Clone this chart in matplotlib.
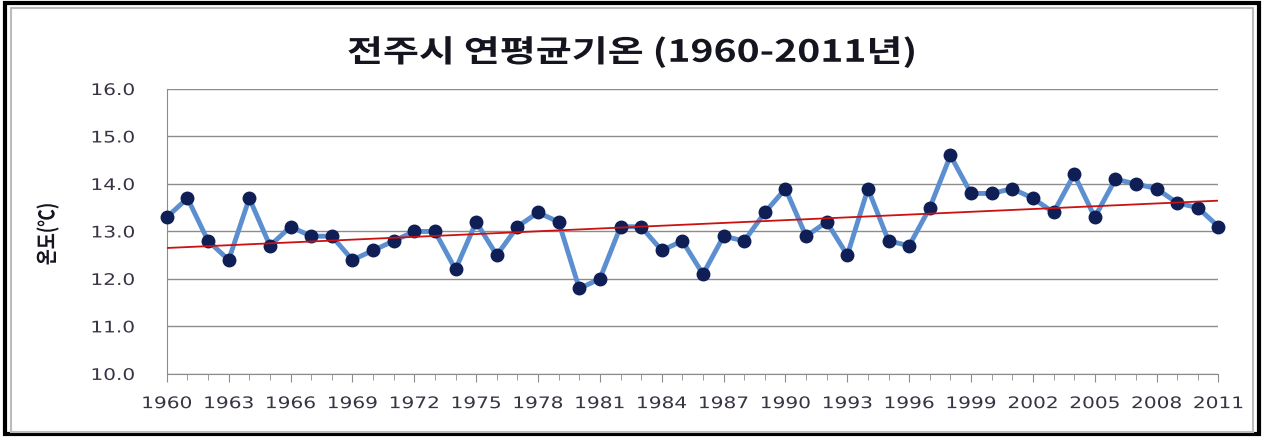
import numpy as np
import matplotlib.pyplot as plt
from matplotlib.patches import Rectangle
from matplotlib.patheffects import AbstractPathEffect
from matplotlib.transforms import Affine2D

plt.rcParams['font.family'] = ['DejaVu Sans', 'Noto Sans CJK KR']

years = np.arange(1960, 2012)
temps = [13.3, 13.7, 12.8, 12.4, 13.7, 12.7, 13.1, 12.9, 12.9, 12.4,
         12.6, 12.8, 13.0, 13.0, 12.2, 13.2, 12.5, 13.1, 13.4, 13.2,
         11.8, 12.0, 13.1, 13.1, 12.6, 12.8, 12.1, 12.9, 12.8, 13.4,
         13.9, 12.9, 13.2, 12.5, 13.9, 12.8, 12.7, 13.5, 14.6, 13.8,
         13.8, 13.9, 13.7, 13.4, 14.2, 13.3, 14.1, 14.0, 13.9, 13.6,
         13.5, 13.1]
title = '전주시 연평균기온 (1960-2011년)'
ylabel = '온도(℃)'


class Stretch(AbstractPathEffect):
    # the source picture is stretched sideways, so the glyphs are too
    def __init__(self, sx=1.0, sy=1.0):
        super().__init__()
        self.sx, self.sy = sx, sy

    def draw_path(self, renderer, gc, tpath, affine, rgbFace=None):
        e = tpath.get_extents()
        cx, cy = (e.x0 + e.x1) / 2, (e.y0 + e.y1) / 2
        t = Affine2D().translate(-cx, -cy).scale(self.sx, self.sy).translate(cx, cy) + affine
        renderer.draw_path(gc, tpath, t, rgbFace)


fig = plt.figure(figsize=(12.64, 4.39), dpi=100)
ax = fig.add_axes([0.132, 0.146, 0.832, 0.649])

# frame round the whole chart
fig.patches.append(Rectangle((0.004, 0.008), 0.992, 0.982, transform=fig.transFigure,
                             fill=False, edgecolor='black', linewidth=3))
fig.patches.append(Rectangle((0.009, 0.014), 0.982, 0.966, transform=fig.transFigure,
                             fill=False, edgecolor='#bbbbbb', linewidth=1.5))

ax.plot(years, temps, color='#5b8fd0', linewidth=3.5, marker='o', markersize=9,
        markerfacecolor='#0f1f55', markeredgecolor='#0f1f55', clip_on=False, zorder=3)

coef = np.polyfit(years, temps, 1)
ax.plot(years, np.polyval(coef, years), color='#cc1111', linewidth=1.3, zorder=4)

ax.set_xlim(1960, 2011)
ax.set_ylim(10, 16)
ax.set_yticks(np.arange(10, 16.1, 1))
ax.set_yticklabels([f'{v:.1f}' for v in np.arange(10, 16.1, 1)])
ax.set_xticks(years[::3])
ax.set_xticks(years, minor=True)
ax.grid(axis='y', color='#8c8c8c', linewidth=1)
ax.set_axisbelow(True)

for s in ['top', 'right']:
    ax.spines[s].set_visible(False)
ax.spines['left'].set_color('#8c8c8c')
ax.spines['bottom'].set_color('#8c8c8c')

ax.tick_params(axis='x', which='major', direction='out', length=6, color='#8c8c8c',
               labelsize=11.5, labelcolor='#3a3344', pad=10)
ax.tick_params(axis='x', which='minor', direction='out', length=4, color='#8c8c8c')
ax.tick_params(axis='y', length=0, labelsize=11.5, labelcolor='#3a3344', pad=26)
for lbl in ax.get_xticklabels() + ax.get_yticklabels():
    lbl.set_family('DejaVu Sans')
    lbl.set_path_effects([Stretch(sx=1.26)])

t = fig.text(0.5, 0.878, title, ha='center', va='center', fontsize=22, fontweight='bold',
             color='#151520', family=['Noto Sans CJK KR', 'DejaVu Sans'])
t.set_path_effects([Stretch(sx=1.28)])
yl = fig.text(0.038, 0.465, ylabel, rotation=90, ha='center', va='center', fontsize=12.5,
              fontweight='bold', color='#151520', family=['Noto Sans CJK KR', 'DejaVu Sans'])
yl.set_path_effects([Stretch(sy=1.25)])

fig.savefig('out.png', dpi=100)
